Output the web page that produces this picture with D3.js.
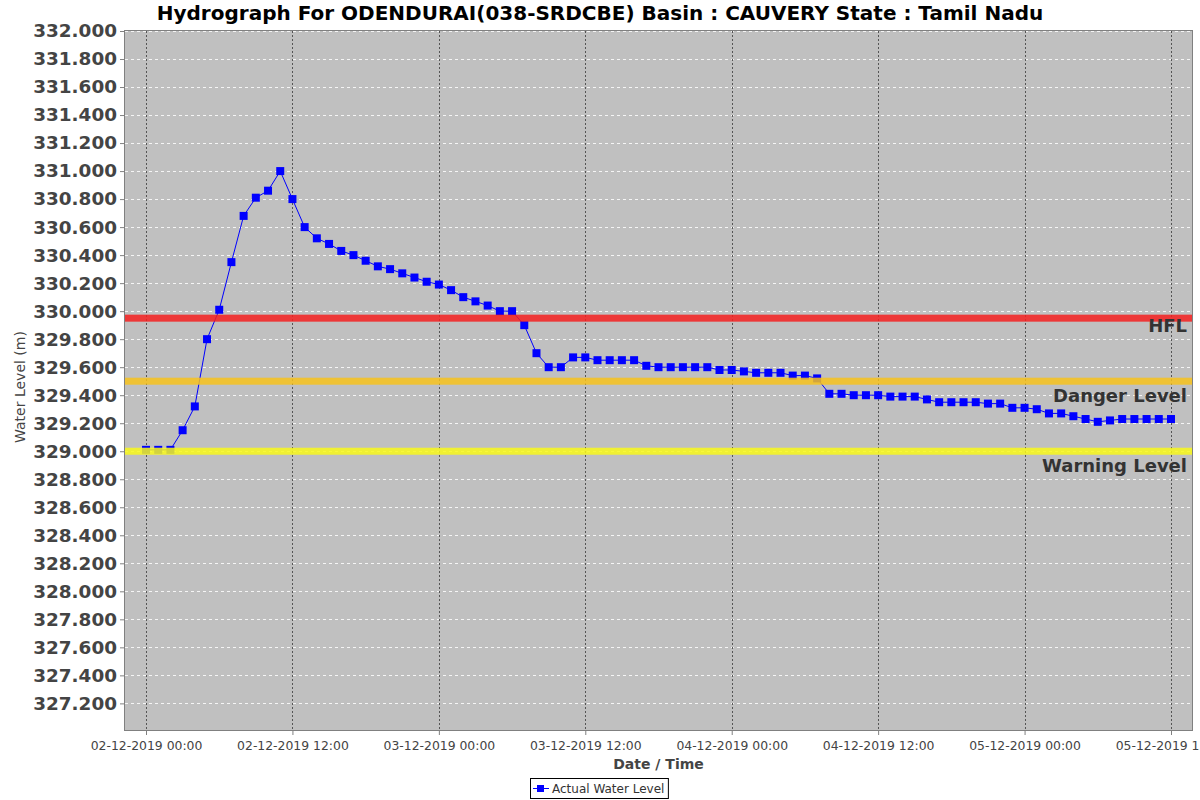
<!DOCTYPE html>
<html>
<head>
<meta charset="utf-8">
<script src="https://cdn.jsdelivr.net/npm/d3@7"></script>
<style>
  body { margin: 0; background: #fff; }
  svg { display: block; font-family: "DejaVu Sans", sans-serif; }
</style>
</head>
<body>
<svg id="chart" width="1200" height="800"></svg>
<script>
// ---------- data ----------
const startTime = "2019-12-02T00:00:00";
const stepHours = 1;
const waterLevels = [
  329.01, 329.01, 329.01, 329.15, 329.32, 329.80, 330.01, 330.35, 330.68, 330.81,
  330.86, 331.00, 330.80, 330.60, 330.52, 330.48, 330.43, 330.40, 330.36, 330.32,
  330.30, 330.27, 330.24, 330.21, 330.19, 330.15, 330.10, 330.07, 330.04, 330.00,
  330.00, 329.90, 329.70, 329.60, 329.60, 329.67, 329.67, 329.65, 329.65, 329.65,
  329.65, 329.61, 329.60, 329.60, 329.60, 329.60, 329.60, 329.58, 329.58, 329.57,
  329.56, 329.56, 329.56, 329.54, 329.54, 329.52, 329.41, 329.41, 329.40, 329.40,
  329.40, 329.39, 329.39, 329.39, 329.37, 329.35, 329.35, 329.35, 329.35, 329.34,
  329.34, 329.31, 329.31, 329.30, 329.27, 329.27, 329.25, 329.23, 329.21, 329.22,
  329.23, 329.23, 329.23, 329.23, 329.23
];
const thresholdNames = ["HFL", "Danger Level", "Warning Level"];
const thresholdValues = [329.95, 329.5, 329.0];
const thresholdColors = ["#f41e1e", "#f7c21c", "#f8f81a"];
const yTickValues = d3.range(0, 25).map(i => +(327.2 + i * 0.2).toFixed(1));
const xTickStarts = ["2019-12-02T00:00:00", "2019-12-05T12:00:00"];
const titleText = "Hydrograph For ODENDURAI(038-SRDCBE) Basin : CAUVERY State : Tamil Nadu";
const yLabel = "Water Level (m)";
const xLabel = "Date / Time";
const legendLabel = "Actual Water Level";

// ---------- layout ----------
const plot = { left: 125, top: 31, right: 1192, bottom: 730 };
const labelDy = [14, 21, 21];
const svg = d3.select("#chart");
const parse = d3.timeParse("%Y-%m-%dT%H:%M:%S");
const t0 = parse(startTime);
const points = waterLevels.map((v, i) => ({ t: d3.timeHour.offset(t0, i * stepHours), v }));

const tFirst = points[0].t, tLast = points[points.length - 1].t;
const marginMs = (tLast - tFirst) * 0.0205;
const x = d3.scaleTime()
  .domain([new Date(+tFirst - marginMs), new Date(+tLast + marginMs)])
  .range([plot.left, plot.right]);
const y = d3.scaleLinear().domain([327.01, 332.0]).range([plot.bottom, plot.top]);

const xTicks = d3.timeHour.every(12).range(parse(xTickStarts[0]), d3.timeHour.offset(parse(xTickStarts[1]), 1));

// background
svg.append("rect").attr("x", plot.left).attr("y", plot.top)
  .attr("width", plot.right - plot.left).attr("height", plot.bottom - plot.top)
  .attr("fill", "#c0c0c0");

// horizontal gridlines
svg.append("g").selectAll("line").data(yTickValues).join("line")
  .attr("x1", plot.left).attr("x2", plot.right)
  .attr("y1", d => Math.round(y(d)) + 0.5).attr("y2", d => Math.round(y(d)) + 0.5)
  .attr("stroke", "#ffffff").attr("stroke-width", 1).attr("stroke-dasharray", "3,3")
  .attr("opacity", 0.85);

// vertical gridlines
svg.append("g").selectAll("line").data(xTicks).join("line")
  .attr("x1", d => Math.round(x(d)) + 0.5).attr("x2", d => Math.round(x(d)) + 0.5)
  .attr("y1", plot.top).attr("y2", plot.bottom)
  .attr("stroke", "#555").attr("stroke-width", 1).attr("stroke-dasharray", "2,2");

// series line
const line = d3.line().x(d => x(d.t)).y(d => y(d.v));
svg.append("path").datum(points).attr("d", line)
  .attr("fill", "none").attr("stroke", "#0000ff").attr("stroke-width", 1);

// markers
svg.append("g").selectAll("rect").data(points).join("rect")
  .attr("x", d => x(d.t) - 4).attr("y", d => y(d.v) - 4)
  .attr("width", 8).attr("height", 8).attr("fill", "#0000ff");

// threshold lines (drawn over series)
const thr = thresholdNames.map((n, i) => ({ n, v: thresholdValues[i], c: thresholdColors[i], dy: labelDy[i] }));
svg.append("g").selectAll("rect").data(thr).join("rect")
  .attr("x", plot.left).attr("width", plot.right - plot.left)
  .attr("y", d => y(d.v) - 3.5).attr("height", 7)
  .attr("fill", d => d.c).attr("opacity", 0.85);

svg.append("g").selectAll("text").data(thr).join("text")
  .attr("x", plot.right - 5).attr("y", d => y(d.v) + d.dy)
  .attr("text-anchor", "end")
  .attr("font-size", 18).attr("font-weight", "bold").attr("fill", "#333")
  .text(d => d.n);

// plot outline
svg.append("rect").attr("x", plot.left - 0.5).attr("y", plot.top - 0.5)
  .attr("width", plot.right - plot.left + 1).attr("height", plot.bottom - plot.top + 1)
  .attr("fill", "none").attr("stroke", "#808080").attr("stroke-width", 1);

// y axis
const yAxis = d3.axisLeft(y).tickValues(yTickValues).tickFormat(d3.format(".3f")).tickSize(4).tickPadding(3);
const gy = svg.append("g").attr("transform", `translate(${plot.left - 1},0)`).call(yAxis);
gy.select(".domain").remove();
gy.selectAll(".tick line").attr("stroke", "#808080");
gy.selectAll(".tick text").attr("font-size", 18.4).attr("font-weight", "bold").attr("fill", "#444")
  .attr("font-family", "DejaVu Sans, sans-serif");

// x axis
const xAxis = d3.axisBottom(x).tickValues(xTicks).tickFormat(d3.timeFormat("%d-%m-%Y %H:%M")).tickSize(4).tickPadding(6);
const gx = svg.append("g").attr("transform", `translate(0,${plot.bottom + 1})`).call(xAxis);
gx.select(".domain").remove();
gx.selectAll(".tick line").attr("stroke", "#808080");
gx.selectAll(".tick text").attr("font-size", 12.4).attr("fill", "#444")
  .attr("font-family", "DejaVu Sans, sans-serif");

// title
svg.append("text").attr("x", 600).attr("y", 20).attr("text-anchor", "middle")
  .attr("font-size", 20).attr("font-weight", "bold").attr("fill", "#000").text(titleText);

// axis labels
svg.append("text").attr("transform", `translate(25,387) rotate(-90)`)
  .attr("text-anchor", "middle").attr("font-size", 14).attr("fill", "#444").text(yLabel);
svg.append("text").attr("x", (plot.left + plot.right) / 2).attr("y", 769)
  .attr("text-anchor", "middle").attr("font-size", 14).attr("font-weight", "bold").attr("fill", "#444").text(xLabel);

// legend
const lg = svg.append("g");
const lgText = lg.append("text").attr("x", 552).attr("y", 793)
  .attr("font-size", 12).attr("fill", "#333").text(legendLabel);
const bb = lgText.node().getBBox();
lg.insert("rect", "text").attr("x", 530.5).attr("y", 778.5)
  .attr("width", bb.x + bb.width + 4 - 530.5).attr("height", 20)
  .attr("fill", "#fff").attr("stroke", "#000").attr("stroke-width", 1);
lg.append("line").attr("x1", 533).attr("x2", 549).attr("y1", 788.5).attr("y2", 788.5)
  .attr("stroke", "#0000ff").attr("stroke-width", 1);
lg.append("rect").attr("x", 537).attr("y", 785).attr("width", 7).attr("height", 7).attr("fill", "#0000ff");
</script>
</body>
</html>
